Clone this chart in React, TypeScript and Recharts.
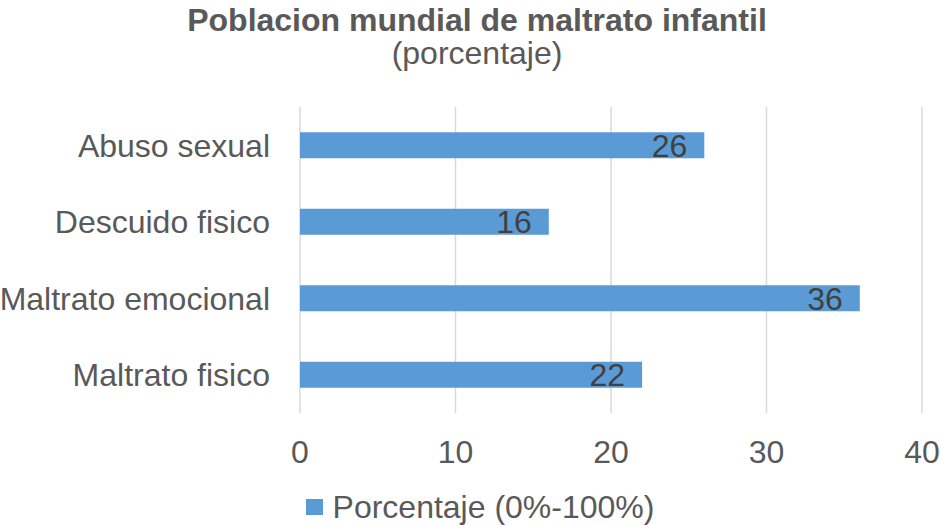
import React from 'react';
import {
  BarChart, Bar, XAxis, YAxis, CartesianGrid, Legend, LabelList,
} from 'recharts';

// categories (top to bottom) and values
const categories = ['Abuso sexual', 'Descuido fisico', 'Maltrato emocional', 'Maltrato fisico'];
const percentages = [26, 16, 36, 22];
const xTicks = [0, 10, 20, 30, 40];

const seriesName = 'Porcentaje (0%-100%)';
const chartTitle = 'Poblacion mundial de maltrato infantil';
const chartSubtitle = '(porcentaje)';

const FONT = '"Liberation Sans", Arial, sans-serif';
const BAR_COLOR = '#5B9BD5';
const TEXT_COLOR = '#595959';

const chartData = categories.map((name, i) => ({ name, value: percentages[i] }));

// legend drawn by hand so the square and gap look like the Excel one
const renderLegend = () => (
  <div
    style={{
      display: 'flex',
      justifyContent: 'center',
      alignItems: 'center',
      height: 36,
      paddingLeft: 18,
      fontFamily: FONT,
      fontSize: 32,
      color: TEXT_COLOR,
      lineHeight: '36px',
    }}
  >
    <span style={{ display: 'inline-block', width: 17, height: 16, background: BAR_COLOR, marginRight: 10 }} />
    <span>{seriesName}</span>
  </div>
);

const App: React.FC = () => {
  return (
    <div style={{ position: 'absolute', left: 0, top: 0, width: 942, height: 525, background: '#fff' }}>
      <BarChart
        width={942}
        height={525}
        data={chartData}
        layout="vertical"
        margin={{ top: 107, right: 20, left: 0, bottom: 0 }}
        barCategoryGap="33%"
      >
        <CartesianGrid horizontal={false} stroke="#D9D9D9" strokeWidth={1.5} />
        <XAxis
          type="number"
          domain={[0, 40]}
          ticks={xTicks}
          axisLine={false}
          tickLine={false}
          tickSize={0}
          tickMargin={27}
          height={76}
          tick={{ fill: TEXT_COLOR, fontSize: 32, fontFamily: FONT }}
        />
        <YAxis
          type="category"
          dataKey="name"
          width={300}
          axisLine={false}
          tickLine={false}
          tickSize={0}
          tickMargin={30}
          tick={{ fill: TEXT_COLOR, fontSize: 32, fontFamily: FONT }}
        />
        <Legend content={renderLegend} wrapperStyle={{ left: 0, width: 942, top: 489 }} />
        <Bar dataKey="value" name={seriesName} fill={BAR_COLOR} isAnimationActive={false}>
          <LabelList
            dataKey="value"
            position="insideRight"
            offset={17}
            fill="#404040"
            fontSize={32}
            fontFamily={FONT}
          />
        </Bar>
      </BarChart>

      {/* title and subtitle */}
      <svg
        width={942}
        height={80}
        style={{ position: 'absolute', left: 0, top: 0, pointerEvents: 'none' }}
      >
        <text x={477} y={31} textAnchor="middle" fontFamily={FONT} fontSize={32} fontWeight="bold" fill={TEXT_COLOR}>
          {chartTitle}
        </text>
        <text x={477} y={64} textAnchor="middle" fontFamily={FONT} fontSize={32} fill={TEXT_COLOR}>
          {chartSubtitle}
        </text>
      </svg>
    </div>
  );
};

export default App;
